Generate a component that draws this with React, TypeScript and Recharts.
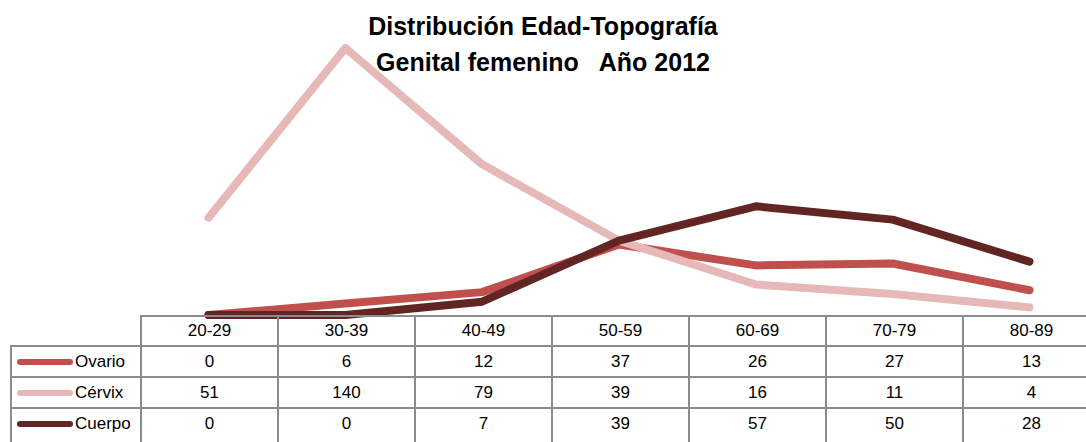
import React from 'react';
import { LineChart, Line, XAxis, YAxis } from 'recharts';

const categories = ['20-29', '30-39', '40-49', '50-59', '60-69', '70-79', '80-89'];
const ovario = [0, 6, 12, 37, 26, 27, 13];
const cervix = [51, 140, 79, 39, 16, 11, 4];
const cuerpo = [0, 0, 7, 39, 57, 50, 28];

const seriesInfo = [
  { key: 'ovario', name: 'Ovario', values: ovario, color: '#C0504D' },
  { key: 'cervix', name: 'Cérvix', values: cervix, color: '#E6B9B8' },
  { key: 'cuerpo', name: 'Cuerpo', values: cuerpo, color: '#632523' },
];

const data = categories.map((name, i) => ({
  name,
  ovario: ovario[i],
  cervix: cervix[i],
  cuerpo: cuerpo[i],
}));

const FONT = '"Liberation Sans", Arial, sans-serif';
const GRID = '2px solid #8c8c8c';
const COL_W = 137;
const LABEL_W = 130;

const DataTable = () => {
  const cell: React.CSSProperties = {
    border: GRID,
    textAlign: 'center',
    padding: 0,
    fontSize: 17,
    color: '#000',
  };
  return (
    <table
      style={{
        position: 'absolute',
        left: 10,
        top: 315,
        width: LABEL_W + COL_W * categories.length,
        borderCollapse: 'collapse',
        tableLayout: 'fixed',
        fontFamily: FONT,
      }}
    >
      <colgroup>
        <col style={{ width: LABEL_W }} />
        {categories.map((c) => (
          <col key={c} style={{ width: COL_W }} />
        ))}
      </colgroup>
      <tbody>
        <tr style={{ height: 30 }}>
          <td style={{ padding: 0, border: 'none', borderRight: GRID, borderBottom: GRID }} />
          {categories.map((c) => (
            <td key={c} style={cell}>{c}</td>
          ))}
        </tr>
        {seriesInfo.map((s, r) => (
          <tr key={s.key} style={{ height: r === seriesInfo.length - 1 ? 40 : 31 }}>
            <td style={{ ...cell, textAlign: 'left', verticalAlign: r === seriesInfo.length - 1 ? 'top' : 'middle' }}>
              <span style={{ display: 'flex', alignItems: 'center', height: 29 }}>
                <span
                  style={{
                    display: 'inline-block',
                    width: 56,
                    height: 6,
                    borderRadius: 3,
                    marginLeft: 5,
                    marginRight: 2,
                    background: s.color,
                  }}
                />
                {s.name}
              </span>
            </td>
            {s.values.map((v, i) => (
              <td key={i} style={{ ...cell, verticalAlign: r === seriesInfo.length - 1 ? 'top' : 'middle' }}>
                <div style={{ lineHeight: '29px' }}>{v}</div>
              </td>
            ))}
          </tr>
        ))}
      </tbody>
    </table>
  );
};

export default function App() {
  return (
    <div
      style={{
        position: 'absolute',
        left: 0,
        top: 0,
        width: 1086,
        height: 442,
        overflow: 'hidden',
        background: '#fff',
        fontFamily: FONT,
      }}
    >
      <div
        style={{
          position: 'absolute',
          left: 0,
          width: 1086,
          top: 8,
          textAlign: 'center',
          fontWeight: 'bold',
          fontSize: 25,
          lineHeight: '36px',
          whiteSpace: 'pre',
        }}
      >
        {'Distribución Edad-Topografía\nGenital femenino   Año 2012'}
      </div>
      <div style={{ position: 'absolute', left: 0, top: 0 }}>
        <LineChart
          width={1098}
          height={330}
          data={data}
          margin={{ top: 48, right: 0, left: 140, bottom: 15 }}
        >
          <XAxis dataKey="name" hide padding={{ left: 68.5, right: 68.5 }} />
          <YAxis hide domain={[0, 140]} />
          {seriesInfo.map((s) => (
            <Line
              key={s.key}
              type="linear"
              dataKey={s.key}
              name={s.name}
              stroke={s.color}
              strokeWidth={8}
              strokeLinecap="round"
              strokeLinejoin="round"
              dot={false}
              activeDot={false}
              isAnimationActive={false}
            />
          ))}
        </LineChart>
      </div>
      <DataTable />
    </div>
  );
}
